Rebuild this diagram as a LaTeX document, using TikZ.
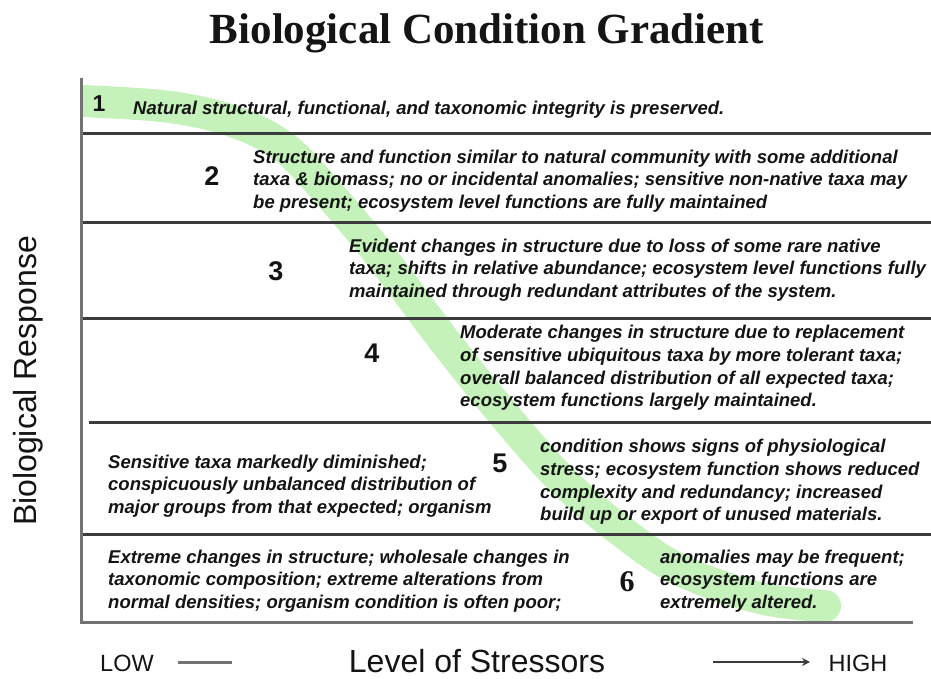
\documentclass[tikz,border=0pt]{standalone}
\usepackage{fontspec}
\setmainfont{Liberation Sans}
\newfontfamily\serifT{Liberation Serif}
\usetikzlibrary{arrows.meta}
\definecolor{band}{RGB}{196,242,186}
\definecolor{ink}{RGB}{20,20,20}
\definecolor{rulec}{RGB}{60,60,60}
\definecolor{axisgray}{RGB}{115,115,115}
\tikzset{
  body/.style={anchor=west, align=left, font=\fontsize{18.5}{22.7}\selectfont\bfseries\itshape, text=ink, inner sep=0pt},
  num/.style={font=\fontsize{27}{27}\selectfont\bfseries, text=ink, inner sep=0pt},
  hrule/.style={draw=rulec, line width=3pt},
  axisline/.style={draw=axisgray, line width=3pt},
}
\begin{document}
\begin{tikzpicture}[x=1pt, y=-1pt]
\useasboundingbox[fill=white] (0,0) rectangle (931,678);
% green gradient band
\draw[band, line width=32pt, line cap=butt] plot[smooth, tension=0.6] coordinates {(82,101) (170,107) (235,122) (285,148) (330,195) (380,255) (440,335) (500,410) (560,478) (620,530) (680,570) (760,598) (825,606)};
\fill[band] (825,606) circle (16pt);
% frame coordinates
\coordinate (tl) at (81,78);
\coordinate (bl) at (81,622);
\coordinate (br) at (913,622);
\foreach \n/\y/\xs in {a/133/81, b/222/81, c/318/81, d/422/89, e/534/81}{
  \coordinate (\n L) at (\xs,\y);
  \coordinate (\n R) at (931,\y);
}
\draw[hrule] (aL) -- (aR);
\draw[hrule] (bL) -- (bR);
\draw[hrule] (cL) -- (cR);
\draw[hrule] (dL) -- (dR);
\draw[hrule] (eL) -- (eR);
\draw[axisline] (tl) -- (bl) -- (br);
% title
\node[font=\serifT\fontsize{43}{43}\selectfont\bfseries, text=ink] (title) at (487,33) {Biological Condition Gradient};
% y label
\node[rotate=90, font=\fontsize{32}{32}\selectfont, text=ink] (ylab) at (28,381) {Biological Response};
% rows
\node[num, font=\fontsize{23}{23}\selectfont\bfseries] (n1) at (99,104) {1};
\node[body] (t1) at (133,110) {Natural structural, functional, and taxonomic integrity is preserved.};
\node[num] (n2) at (212,176) {2};
\node[body] (t2) at (253,181) {Structure and function similar to natural community with some additional\\taxa \& biomass; no or incidental anomalies; sensitive non-native taxa may\\be present; ecosystem level functions are fully maintained};
\node[num] (n3) at (276,271) {3};
\node[body] (t3) at (349,270) {Evident changes in structure due to loss of some rare native\\taxa; shifts in relative abundance; ecosystem level functions fully\\maintained through redundant attributes of the system.};
\node[num] (n4) at (372,353) {4};
\node[body] (t4) at (460,368) {Moderate changes in structure due to replacement\\of sensitive ubiquitous taxa by more tolerant taxa;\\overall balanced distribution of all expected taxa;\\ecosystem functions largely maintained.};
\node[body] (t5a) at (108,486) {Sensitive taxa markedly diminished;\\conspicuously unbalanced distribution of\\major groups from that expected; organism};
\node[num] (n5) at (500,463) {5};
\node[body] (t5b) at (540,482) {condition shows signs of physiological\\stress; ecosystem function shows reduced\\complexity and redundancy; increased\\build up or export of unused materials.};
\node[body] (t6a) at (108,581) {Extreme changes in structure; wholesale changes in\\taxonomic composition; extreme alterations from\\normal densities; organism condition is often poor;};
\node[num, font=\serifT\fontsize{30}{30}\selectfont\bfseries] (n6) at (627,582) {6};
\node[body] (t6b) at (660,581) {anomalies may be frequent;\\ecosystem functions are\\extremely altered.};
% x axis legend
\node[font=\fontsize{23.5}{23.5}\selectfont, text=ink] (low) at (127,663) {LOW};
\coordinate (lowA) at (178,662);
\coordinate (lowB) at (232,662);
\draw[draw=axisgray, line width=3pt] (lowA) -- (lowB);
\node[font=\fontsize{32}{32}\selectfont, text=ink, inner sep=1pt] (xlab) at (477,661) {Level of Stressors};
\coordinate (arrA) at (713,662);
\coordinate (arrB) at (810,662);
\draw[draw=rulec, line width=2.5pt, -{Stealth[length=8pt,width=8pt]}] (arrA) -- (arrB);
\node[font=\fontsize{23.5}{23.5}\selectfont, text=ink] (high) at (858,663) {HIGH};
\end{tikzpicture}
\end{document}
